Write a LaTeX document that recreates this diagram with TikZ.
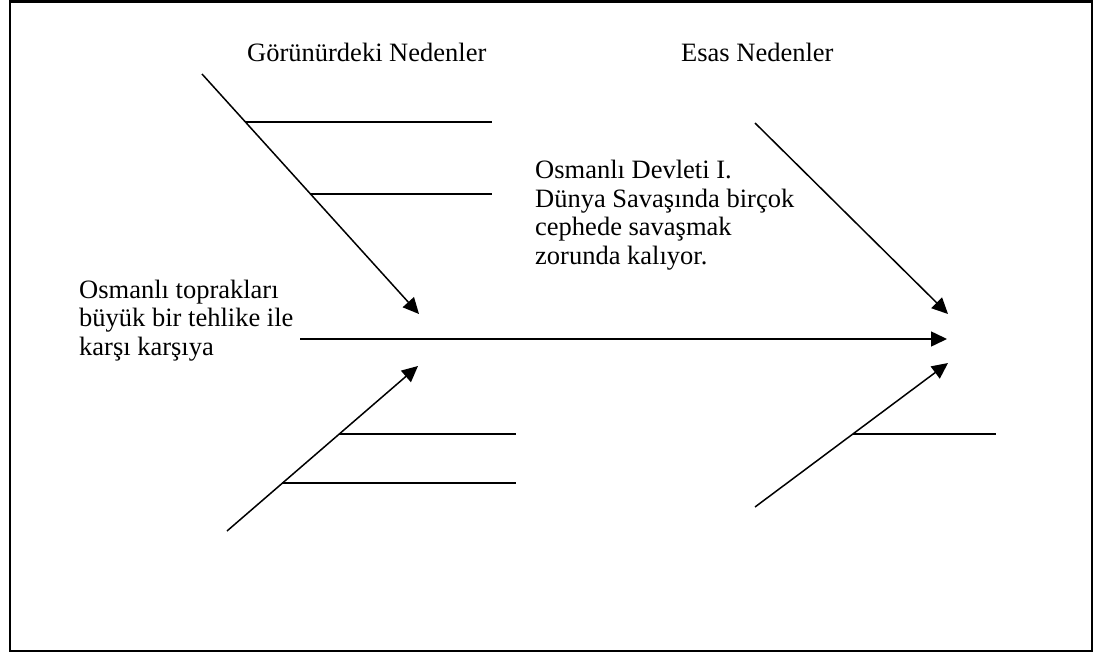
\documentclass[tikz,border=0pt]{standalone}
\usepackage{fontspec}
\setmainfont{Liberation Serif}
\usetikzlibrary{arrows.meta,calc}
\tikzset{
  frame/.style={line width=2.4pt},
  bone/.style={line width=1.5pt},
  causearrow/.style={bone,-{Triangle[length=16pt,width=15pt]}},
  label/.style={inner sep=0pt,font=\fontsize{26.5}{28.5}\selectfont},
  textblock/.style={label,align=left,anchor=base west}
}
\begin{document}
\begin{tikzpicture}[x=1pt,y=-1pt]
  \useasboundingbox (0,0) rectangle (1107,655);
  % outer frame
  \draw[frame] (10,1.5) rectangle (1092,651);

  % spine
  \coordinate (tail) at (300,339);
  \coordinate (head) at (947,339);
  \draw[causearrow] (tail) -- (head);

  % visible causes, upper bone
  \coordinate (ulstart) at (202,74);
  \coordinate (ultip) at (419,314);
  \draw[causearrow] (ulstart) -- (ultip);
  \coordinate (ulr1) at ($(ulstart)!0.2!(ultip)$);
  \coordinate (ulr2) at ($(ulstart)!0.5!(ultip)$);
  \draw[bone] (ulr1) -- (ulr1 -| 492,0);
  \draw[bone] (ulr2) -- (ulr2 -| 492,0);

  % visible causes, lower bone
  \coordinate (llstart) at (227,531);
  \coordinate (lltip) at (418,366);
  \draw[causearrow] (llstart) -- (lltip);
  \coordinate (llr1) at ($(llstart)!0.588!(lltip)$);
  \coordinate (llr2) at ($(llstart)!0.29!(lltip)$);
  \draw[bone] (llr1) -- (llr1 -| 516,0);
  \draw[bone] (llr2) -- (llr2 -| 516,0);

  % root causes, upper bone
  \coordinate (urstart) at (755,123);
  \coordinate (urtip) at (948,314);
  \draw[causearrow] (urstart) -- (urtip);

  % root causes, lower bone
  \coordinate (lrstart) at (755,507);
  \coordinate (lrtip) at (948,363);
  \draw[causearrow] (lrstart) -- (lrtip);
  \coordinate (lrr1) at ($(lrstart)!0.507!(lrtip)$);
  \draw[bone] (lrr1) -- (lrr1 -| 996,0);

  % labels (multi-line blocks are placed by the baseline of their last line)
  \node[label,anchor=base west] (visible) at (247,62) {Görünürdeki Nedenler};
  \node[label,anchor=base west] (root) at (681,62) {Esas Nedenler};
  \node[textblock] (effect) at (79,355) {Osmanlı toprakları\\büyük bir tehlike ile\\karşı karşıya};
  \node[textblock] (war) at (535,264) {Osmanlı Devleti I.\\Dünya Savaşında birçok\\cephede savaşmak\\zorunda kalıyor.};
\end{tikzpicture}
\end{document}
